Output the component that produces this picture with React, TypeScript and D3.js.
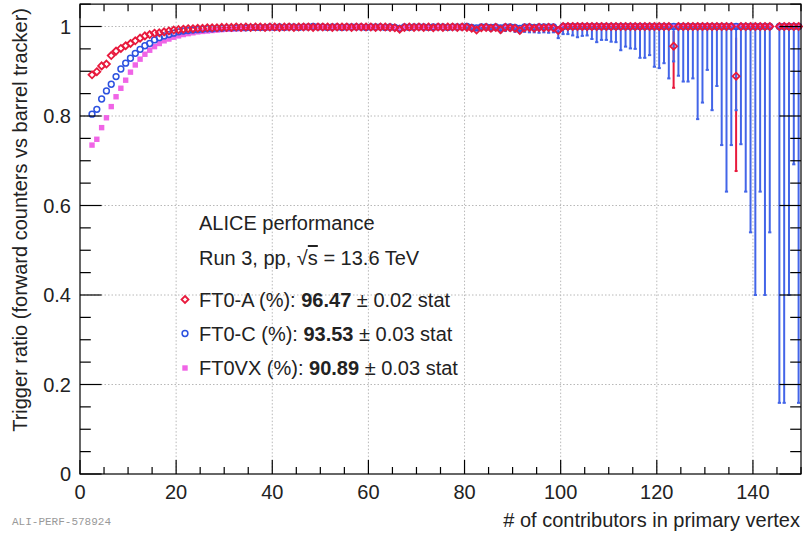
import React from "react";
import * as d3 from "d3";

// ---------- DATA ----------
const binStart = 2.5; // first bin centre, bins of width 1
const redVals: (number | null)[] = [
  0.892, 0.899, 0.912, 0.916, 0.935, 0.945, 0.951, 0.957, 0.962, 0.968,
  0.974, 0.979, 0.982, 0.985, 0.986, 0.988, 0.990, 0.992, 0.993, 0.994,
  0.995, 0.995, 0.996, 0.996, 0.997, 0.997, 0.997, 0.998, 0.998, 0.998,
  0.999, 0.998, 0.999, 0.998, 0.999, 0.999, 0.998, 0.999, 0.999, 0.998,
  0.999, 0.999, 0.998, 0.999, 0.999, 0.999, 0.998, 0.999, 0.999, 0.999,
  0.998, 0.999, 0.999, 0.999, 0.998, 0.999, 0.999, 0.999, 0.999, 0.998,
  0.999, 0.999, 0.998, 0.997, 0.994, 0.998, 0.999, 0.998, 0.999, 0.998,
  0.999, 0.997, 0.999, 0.998, 0.999, 0.999, 0.998, 0.999, 0.998, 0.996,
  0.992, 0.997, 0.998, 0.996, 0.998, 0.993, 0.998, 0.997, 0.996, 0.991,
  0.997, 0.998, 0.996, 0.998, 0.997, 0.998, 0.997, 0.991, 1, 1,
  1, 1, 1, 1, 1, 1, 1, 1, 1, 1,
  1, 1, 1, 1, 1, 1, 1, 1, 1, 1,
  1, 0.956, 1, 1, 1, 1, 1, 1, 1, 1,
  1, 1, 1, 1, 0.889, 1, 1, 1, 1, 1,
  1, 1, null, 1, 1, 1, 1, 1,
];
const blueVals: (number | null)[] = [
  0.804, 0.815, 0.838, 0.856, 0.871, 0.888, 0.905, 0.918, 0.929, 0.940,
  0.949, 0.957, 0.962, 0.970, 0.975, 0.979, 0.982, 0.985, 0.988, 0.990,
  0.991, 0.992, 0.993, 0.994, 0.995, 0.995, 0.996, 0.996, 0.997, 0.997,
  0.997, 0.998, 0.997, 0.998, 0.998, 0.998, 0.998, 0.999, 0.998, 0.999,
  0.998, 0.999, 0.999, 0.998, 0.999, 0.999, 1.0, 0.999, 0.999, 0.998,
  0.999, 0.999, 0.998, 0.999, 0.999, 0.999, 0.999, 0.998, 0.999, 0.999,
  0.999, 0.998, 0.999, 0.998, 0.996, 0.999, 0.998, 0.999, 0.999, 0.999,
  0.998, 0.999, 0.999, 0.999, 0.998, 0.999, 0.999, 0.999, 1.0, 0.998,
  0.997, 0.999, 0.999, 0.998, 0.999, 0.997, 0.999, 0.999, 0.998, 0.996,
  0.999, 0.999, 0.998, 0.999, 0.999, 0.999, 0.999, 0.993, 1, 1,
  1, 1, 1, 1, 1, 1, 1, 1, 1, 1,
  1, 1, 1, 1, 1, 1, 1, 1, 1, 1,
  1, 1, 1, 1, 1, 1, 1, 1, 1, 1,
  1, 1, 1, 1, 1, 1, 1, 1, 1, 1,
  1, 1, null, 1, 1, 1, 1, 1,
];
const pinkVals: (number | null)[] = [
  0.735, 0.748, 0.774, 0.796, 0.821, 0.843, 0.862, 0.880, 0.898, 0.914,
  0.927, 0.938, 0.947, 0.955, 0.962, 0.968, 0.972, 0.976, 0.979, 0.982,
  0.984, 0.986, 0.988, 0.989, 0.990, 0.991, 0.992, 0.993, 0.994, 0.994,
  0.995, 0.995, 0.996, 0.996, 0.996, 0.997, 0.997, 0.997, 0.997, 0.998,
  0.997, 0.998, 0.998, 0.998, 0.998, 0.998, 0.999, 0.998, 0.998, 0.998,
  0.998, 0.999, 0.998, 0.998, 0.999, 0.998, 0.998, 0.999, 0.998, 0.998,
  0.999, 0.998, 0.998, 0.997, 0.995, 0.998, 0.998, 0.999, 0.998, 0.998,
  0.998, 0.997, 0.998, 0.998, 0.999, 0.998, 0.998, 0.998, 0.999, 0.997,
  0.995, 0.998, 0.998, 0.997, 0.998, 0.995, 0.998, 0.998, 0.997, 0.994,
  0.998, 0.998, 0.997, 0.998, 0.998, 0.998, 0.998, 0.992, 1, 1,
  1, 1, 1, 1, 1, 1, 1, 1, 1, 1,
  1, 1, 1, 1, 1, 1, 1, 1, 1, 1,
  1, 1, 1, 1, 1, 1, 1, 1, 1, 1,
  1, 1, 1, 1, 1, 1, 1, 1, 1, 1,
  1, 1, null, 1, 1, 1, 1, 1,
];
// lower edge of FT0-C error bars, from bin 80.5 onward
const blueErrStart = 80.5;
const blueLow: (number | null)[] = [
  0.996, 0.994, 0.992, 0.993, 0.994, 0.990, 0.992, 0.987, 0.990, 0.991,
  0.988, 0.986, 0.988, 0.987, 0.987, 0.986, 0.987, 0.986, 0.987, 0.974,
  0.983, 0.983, 0.980, 0.976, 0.979, 0.980, 0.972, 0.965, 0.970, 0.970,
  0.966, 0.965, 0.947, 0.955, 0.951, 0.950, 0.930, 0.930, 0.936, 0.910,
  0.907, 0.918, 0.884, 0.922, 0.890, 0.877, 0.877, 0.884, 0.793, 0.830,
  0.903, 0.813, 0.867, 0.735, 0.631, 0.735, 0.813, 0.737, 0.631, 0.540,
  0.400, 0.631, 0.400, 0.540, null, 0.159, 0.159, 0.400, 0.692, 0.159,
];
// FT0-A error bars visible in the tail
const redErrBins = [123.5, 136.5];
const redLow = [0.863, 0.677];
const redHigh = [0.99, 0.975];

const xTicksMajor = [0, 20, 40, 60, 80, 100, 120, 140];
const yTicksMajor = [0, 0.2, 0.4, 0.6, 0.8, 1];
const yTickLabels = ["0", "0.2", "0.4", "0.6", "0.8", "1"];

const legendRows = [
  { name: "FT0-A (%): ", value: "96.47", err: " ± 0.02 stat", kind: "diamond" },
  { name: "FT0-C (%): ", value: "93.53", err: " ± 0.03 stat", kind: "circle" },
  { name: "FT0VX (%): ", value: "90.89", err: " ± 0.03 stat", kind: "square" },
];

// ---------- STYLE ----------
const RED = "#e8193c";
const BLUE = "#2d52e0";
const BLUE_BAR = "#4365e8";
const PINK = "#f064e6";
const FONT = "'Liberation Sans', Arial, Helvetica, sans-serif";
const TXT = "#222";

const W = 803;
const H = 535;
const L = 80, R = 801, B = 474;
const x = d3.scaleLinear().domain([0, 150]).range([L, R]);
const y = d3.scaleLinear().domain([0, 1.05]).range([B, B - 1.05 * 447.5]);
const T = y(1.05);

function Marker({ kind, cx, cy }: { kind: string; cx: number; cy: number }) {
  if (kind === "diamond") {
    const s = 3.5;
    return (
      <path
        d={`M${cx},${cy - s}L${cx + s},${cy}L${cx},${cy + s}L${cx - s},${cy}Z`}
        fill="none"
        stroke={RED}
        strokeWidth={1.8}
      />
    );
  }
  if (kind === "circle") {
    return <circle cx={cx} cy={cy} r={2.9} fill="none" stroke={BLUE} strokeWidth={1.5} />;
  }
  return <rect x={cx - 2.7} y={cy - 2.7} width={5.4} height={5.4} fill={PINK} />;
}

export default function App() {
  const binX = (i: number) => x(binStart + i);
  const minorX = d3.range(0, 151, 5);
  const minorY = d3.range(0, 1.051, 0.05);
  const xt = 14, yt = 21.6;

  return (
    <svg
      width={W}
      height={H}
      style={{ position: "absolute", left: 0, top: 0, background: "#fff" }}
      fontFamily={FONT}
    >
      <rect x={0} y={0} width={W} height={H} fill="#fff" />
      {/* grid */}
      <g stroke="#b8b8b8" strokeWidth={1} strokeDasharray="1.5,2">
        {xTicksMajor.filter((v) => v > 0).map((v) => (
          <line key={"gx" + v} x1={x(v)} x2={x(v)} y1={T} y2={B} />
        ))}
        {yTicksMajor.filter((v) => v > 0).map((v) => (
          <line key={"gy" + v} x1={L} x2={R} y1={y(v)} y2={y(v)} />
        ))}
      </g>

      {/* pink markers */}
      <g>
        {pinkVals.map((v, i) =>
          v == null ? null : <Marker key={"p" + i} kind="square" cx={binX(i)} cy={y(v)} />
        )}
      </g>
      {/* red error bars */}
      <g stroke={RED} strokeWidth={2}>
        {redErrBins.map((b, i) => (
          <g key={"re" + i}>
            <line x1={x(b)} x2={x(b)} y1={y(redHigh[i])} y2={y(redLow[i])} />
            <line x1={x(b) - 1.5} x2={x(b) + 1.5} y1={y(redLow[i])} y2={y(redLow[i])} />
          </g>
        ))}
      </g>
      {/* blue error bars */}
      <g stroke={BLUE_BAR} strokeWidth={2}>
        {blueLow.map((lo, i) => {
          if (lo == null) return null;
          const bx = x(blueErrStart + i);
          const idx = Math.round(blueErrStart + i - binStart);
          const v = blueVals[idx] ?? 1;
          return (
            <g key={"be" + i}>
              <line x1={bx} x2={bx} y1={y(v)} y2={y(lo)} />
              <line x1={bx - 1.6} x2={bx + 1.6} y1={y(lo)} y2={y(lo)} />
            </g>
          );
        })}
      </g>
      {/* blue markers */}
      <g>
        {blueVals.map((v, i) =>
          v == null ? null : <Marker key={"b" + i} kind="circle" cx={binX(i)} cy={y(v)} />
        )}
      </g>
      {/* red markers */}
      <g>
        {redVals.map((v, i) =>
          v == null ? null : <Marker key={"r" + i} kind="diamond" cx={binX(i)} cy={y(v)} />
        )}
      </g>

      {/* frame */}
      <rect x={L} y={T} width={R - L} height={B - T} fill="none" stroke="#000" strokeWidth={1.2} />
      {/* ticks */}
      <g stroke="#000" strokeWidth={1.2}>
        {minorX.map((v) => {
          const len = v % 20 === 0 ? xt : xt / 2;
          return (
            <g key={"tx" + v}>
              <line x1={x(v)} x2={x(v)} y1={B} y2={B - len} />
              <line x1={x(v)} x2={x(v)} y1={T} y2={T + len} />
            </g>
          );
        })}
        {minorY.map((v, i) => {
          const len = i % 4 === 0 ? yt : yt / 2;
          return (
            <g key={"ty" + i}>
              <line x1={L} x2={L + len} y1={y(v)} y2={y(v)} />
              <line x1={R} x2={R - len} y1={y(v)} y2={y(v)} />
            </g>
          );
        })}
      </g>
      {/* tick labels */}
      <g fontSize={20} fill={TXT}>
        {xTicksMajor.map((v) => (
          <text key={"lx" + v} x={x(v)} y={499} textAnchor="middle">
            {v}
          </text>
        ))}
        {yTicksMajor.map((v, i) => (
          <text key={"ly" + v} x={71} y={y(v) + 7} textAnchor="end">
            {yTickLabels[i]}
          </text>
        ))}
      </g>
      {/* axis titles */}
      <text x={800} y={527} textAnchor="end" fontSize={20} fill={TXT}>
        # of contributors in primary vertex
      </text>
      <text
        transform={`translate(27,8) rotate(-90)`}
        textAnchor="end"
        fontSize={20}
        fill={TXT}
      >
        Trigger ratio (forward counters vs barrel tracker)
      </text>
      {/* watermark */}
      <text x={12} y={525} fontSize={11} fill="#999" fontFamily="'Liberation Mono', 'DejaVu Sans Mono', monospace">
        ALI-PERF-578924
      </text>

      {/* legend */}
      <g fontSize={20} fill={TXT}>
        <text x={199} y={230}>ALICE performance</text>
        <text x={199} y={265}>
          Run 3, pp, √<tspan style={{ textDecoration: "overline" }}>s</tspan> = 13.6 TeV
        </text>
        {legendRows.map((r, i) => {
          const by = [306.5, 340.5, 375][i];
          return (
            <g key={"lg" + i}>
              <Marker kind={r.kind} cx={185} cy={by - 7} />
              <text x={199} y={by}>
                {r.name}
                <tspan fontWeight="bold">{r.value}</tspan>
                {r.err}
              </text>
            </g>
          );
        })}
      </g>
    </svg>
  );
}
